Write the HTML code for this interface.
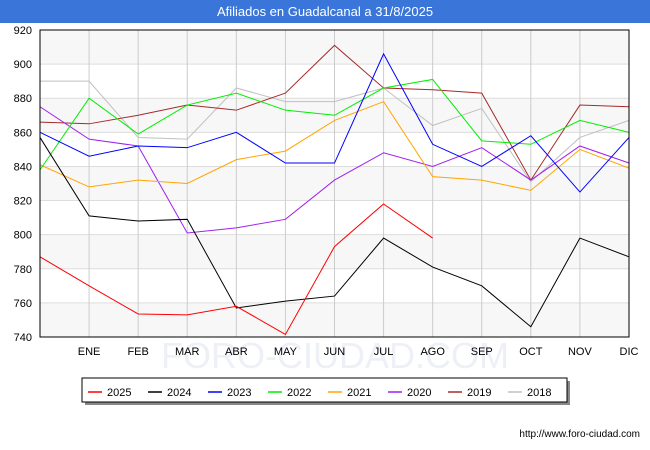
<!DOCTYPE html>
<html><head><meta charset="utf-8"><style>
body{margin:0;background:#fff;font-family:"Liberation Sans",sans-serif;}
#wrap{position:relative;width:650px;height:450px;overflow:hidden;background:#fff}
#title{position:absolute;left:0;top:0;width:650px;height:23px;background:#3a76d9;color:#fff;font-size:13px;text-align:center;line-height:23px}
</style></head><body>
<div id="wrap">
<div id="title">Afiliados en Guadalcanal a 31/8/2025</div>
<svg id="svg" width="650" height="450" style="position:absolute;left:0;top:0"></svg>
</div>
<script>
const months=["","ENE","FEB","MAR","ABR","MAY","JUN","JUL","AGO","SEP","OCT","NOV","DIC"];
const yTicks=[740,760,780,800,820,840,860,880,900,920];
const seriesNames=["2025","2024","2023","2022","2021","2020","2019","2018"];
const seriesColors=["#ff0000","#000000","#0000ff","#00ee00","#ffa500","#a020f0","#a52a2a","#c0c0c0"];
const s2025=[787,770,753.5,753,758,741.5,793,818,798];
const s2024=[857,811,808,809,757,761,764,798,781,770,746,798,787];
const s2023=[860,846,852,851,860,842,842,906,853,840,858,825,857];
const s2022=[838,880,859,876,883,873,870,886,891,855,853,867,860];
const s2021=[841,828,832,830,844,849,867,878,834,832,826,850,839];
const s2020=[875,856,852,801,804,809,832,848,840,851,832,852,842];
const s2019=[866,865,870,876,873,883,911,886,885,883,832,876,875];
const s2018=[890,890,857,856,886,878,878,886,864,874,831,857,867];
const allSeries=[s2025,s2024,s2023,s2022,s2021,s2020,s2019,s2018];

const NS="http://www.w3.org/2000/svg";
const svg=document.getElementById('svg');
const L=40,R=629,T=30,B=337,yMin=740,yMax=920;
const xs=i=>L+(R-L)*i/12;
const ys=v=>B-(v-yMin)*(B-T)/(yMax-yMin);
function mk(tag,attrs,parent){const e=document.createElementNS(NS,tag);for(const k in attrs)e.setAttribute(k,attrs[k]);(parent||svg).appendChild(e);return e;}
// watermark
const wm=mk('text',{x:335,y:368,'font-size':36,fill:'#eef0f8','text-anchor':'middle','font-family':'Liberation Sans, sans-serif'});


wm.textContent='FORO-CIUDAD.COM';
// bands
for(let i=0;i<yTicks.length-1;i++){
  if((yTicks.length-2-i)%2===0){
    const b=mk('rect',{x:L,y:ys(yTicks[i+1]),width:R-L,height:ys(yTicks[i])-ys(yTicks[i+1]),fill:'#f7f7f7'});
    
    
  }
}
yTicks.forEach(v=>{
  const g=mk('line',{x1:L,x2:R,y1:ys(v),y2:ys(v),stroke:'#dddddd','stroke-width':1});
  
  
  const t=mk('text',{x:L-8,y:ys(v)+4,'font-size':11,'text-anchor':'end',fill:'#000'});
  
  
  t.textContent=v;
});
months.forEach((m,i)=>{
  if(i>0){
    const g=mk('line',{x1:xs(i),x2:xs(i),y1:T,y2:B,stroke:'#cccccc','stroke-width':1});
    
    
  }
  const t=mk('text',{x:xs(i),y:B+18,'font-size':11,'text-anchor':'middle',fill:'#000'});
  
  
  t.textContent=m;
});
for(let k=allSeries.length-1;k>=0;k--){
  const pts=allSeries[k].map((v,i)=>xs(i)+','+ys(v)).join(' ');
  const p=mk('polyline',{points:pts,fill:'none',stroke:seriesColors[k],'stroke-width':1});
  
  
}
const fr=mk('rect',{x:L,y:T,width:R-L,height:B-T,fill:'none',stroke:'#000','stroke-width':1});


// legend
const lg=mk('g',{});


mk('rect',{x:85,y:381,width:485,height:24,fill:'#888'},lg);
mk('rect',{x:82,y:378,width:485,height:24,fill:'#fff',stroke:'#000','stroke-width':1},lg);
seriesNames.forEach((n,k)=>{
  const x0=88+k*60;
  const e=mk('g',{},lg);
  
  
  mk('line',{x1:x0,x2:x0+14,y1:392,y2:392,stroke:seriesColors[k],'stroke-width':1.5},e);
  const t=mk('text',{x:x0+19,y:396,'font-size':11,fill:'#000'},e);
  t.textContent=n;
});
const u=mk('text',{x:640,y:437,'font-size':10,'text-anchor':'end',fill:'#000'});


u.textContent='http://www.foro-ciudad.com';
</script>
</body></html>
